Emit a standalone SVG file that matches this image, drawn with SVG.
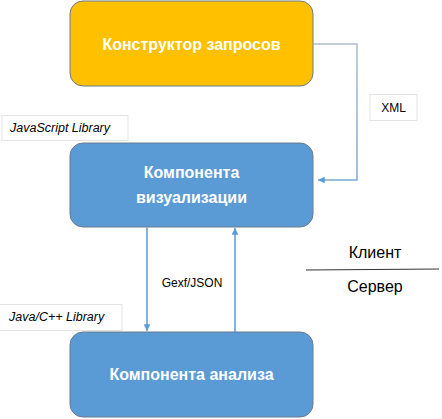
<svg xmlns="http://www.w3.org/2000/svg" width="442" height="419" viewBox="0 0 442 419">
<style>
.box{stroke:#6b7b8c;stroke-width:1}
.yellow{fill:#FFC000}
.blue{fill:#5B9BD5}
.title{font-family:"Liberation Sans",Arial,sans-serif;font-weight:bold;font-size:16px;fill:#fff;text-anchor:middle}
.lbl{font-family:"Liberation Sans",Arial,sans-serif;font-size:12px;fill:#000;text-anchor:middle}
.tag{font-family:"Liberation Sans",Arial,sans-serif;font-style:italic;font-size:12.5px;fill:#000}
.tagbox{fill:#fff;stroke:#e3e3e3;stroke-width:1}
.side{font-family:"Liberation Sans",Arial,sans-serif;font-size:16px;fill:#000;text-anchor:middle}
.conn{fill:none;stroke:#5B9BD5;stroke-width:1.5}
</style>
<defs>
<marker id="arr" viewBox="0 0 10 10" refX="10" refY="5" markerWidth="4.5" markerHeight="4.5" orient="auto" markerUnits="strokeWidth">
<path d="M0,0 L10,5 L0,10 z" fill="#5B9BD5"/>
</marker>
<linearGradient id="xmlg" gradientUnits="userSpaceOnUse" x1="0" y1="44" x2="0" y2="180">
<stop offset="0" stop-color="#AEBCCC"/>
<stop offset="1" stop-color="#7FA8D4"/>
</linearGradient>
</defs>
<g id="connectors">
<path d="M313.5,44 H357 V180 H318" fill="none" stroke="url(#xmlg)" stroke-width="1.5" marker-end="url(#arr)"/>
<path class="conn" d="M147,227.5 V331" marker-end="url(#arr)"/>
<path class="conn" d="M235,332 V228" marker-end="url(#arr)"/>
</g>
<g id="node-query">
<rect class="box yellow" x="70" y="1" width="243" height="85" rx="13"/>
<text class="title" x="191.5" y="50">Конструктор запросов</text>
</g>
<g id="label-xml">
<rect class="tagbox" x="370" y="94.5" width="47" height="26"/>
<text class="lbl" x="393.5" y="112">XML</text>
</g>
<g id="tag-js">
<rect class="tagbox" x="2" y="115.5" width="126" height="25"/>
<text class="tag" x="10" y="132">JavaScript Library</text>
</g>
<g id="node-vis">
<rect class="box blue" x="70" y="143" width="243" height="84" rx="13"/>
<text class="title" x="191.5" y="178">Компонента</text>
<text class="title" x="191.5" y="203">визуализации</text>
</g>
<g id="label-gexf">
<text class="lbl" x="192" y="287">Gexf/JSON</text>
</g>
<g id="divider">
<text class="side" x="375" y="258">Клиент</text>
<line x1="306" y1="270" x2="439" y2="269" stroke="#333" stroke-width="1"/>
<text class="side" x="375" y="292">Сервер</text>
</g>
<g id="tag-java">
<rect class="tagbox" x="-1" y="304.5" width="123" height="26"/>
<text class="tag" x="9" y="321">Java/C++ Library</text>
</g>
<g id="node-analysis">
<rect class="box blue" x="70" y="332" width="243" height="85" rx="13"/>
<text class="title" x="191.5" y="380">Компонента анализа</text>
</g>
</svg>
